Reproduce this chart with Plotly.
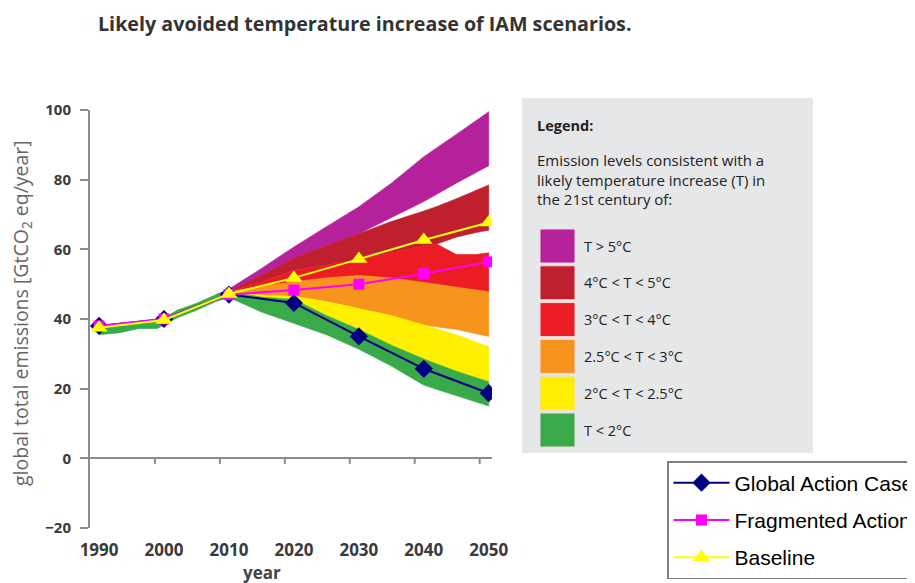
import plotly.graph_objects as go

# ---------------- data ----------------
line_years = [1990, 2000, 2010, 2020, 2030, 2040, 2050]
global_action = [38.0, 40.0, 47.0, 44.6, 35.0, 25.7, 18.7]
fragmented = [38.0, 40.0, 47.0, 48.3, 50.0, 53.0, 56.4]
baseline = [37.5, 39.7, 47.2, 51.8, 57.2, 62.7, 67.7]

green_years = [1990, 1993, 1996, 1999, 2002, 2005, 2008, 2010, 2015, 2020, 2025, 2030, 2035, 2040, 2045, 2050]
green_low = [35.5, 36.0, 37.2, 37.3, 40.3, 42.5, 45.0, 46.2, 42.0, 38.8, 35.5, 31.3, 26.5, 21.0, 18.0, 15.0]
green_high = [37.8, 38.0, 38.8, 39.2, 42.5, 44.5, 47.0, 47.8, 46.3, 45.6, 41.0, 37.0, 32.5, 28.5, 25.0, 22.0]

fut_years = [2010, 2015, 2020, 2025, 2030, 2035, 2040, 2045, 2050]
yellow_low = [47.8, 46.3, 45.6, 41.0, 37.0, 32.5, 28.5, 25.0, 22.0]
yellow_high = [47.8, 46.8, 46.5, 45.0, 43.0, 41.0, 38.3, 35.5, 32.0]
orange_low = [47.8, 46.8, 46.5, 45.0, 43.0, 41.0, 38.3, 37.0, 35.0]
orange_high = [47.8, 49.5, 50.7, 51.8, 52.5, 51.8, 50.5, 49.2, 47.8]

notch_years = [2010, 2015, 2020, 2025, 2030, 2035, 2040, 2042, 2045, 2048, 2050]
red_low = [47.8, 49.5, 50.7, 51.8, 52.5, 51.8, 50.5, 50.0, 49.2, 48.3, 47.8]
red_high = [47.8, 50.7, 54.0, 55.5, 57.0, 59.0, 61.0, 61.5, 58.5, 58.5, 59.0]
darkred_low = [47.8, 50.7, 54.0, 55.5, 57.0, 59.0, 61.0, 61.5, 63.5, 64.8, 65.5]
darkred_high = [47.8, 52.5, 57.5, 61.0, 64.5, 68.0, 71.0, 72.3, 74.5, 77.0, 78.5]

purple_years = [2008, 2010, 2015, 2020, 2025, 2030, 2035, 2040, 2045, 2050]
purple_low = [46.8, 47.8, 52.5, 57.5, 61.0, 64.5, 69.0, 73.7, 79.0, 84.0]
purple_high = [47.0, 48.6, 54.5, 60.7, 66.5, 72.2, 79.0, 86.6, 93.0, 99.5]

band_labels = ["T > 5°C", "4°C < T < 5°C", "3°C < T < 4°C",
               "2.5°C < T < 3°C", "2°C < T < 2.5°C", "T < 2°C"]
band_colors = ["#b5209b", "#c0202d", "#ec1c24", "#f7941e", "#fff000", "#39aa49"]

y_ticks = [-20, 0, 20, 40, 60, 80, 100]

# ---------------- figure ----------------
W, H = 915, 583
OFF = 8  # page offset of the figure (default body margin)
def px(x):
    return (x - OFF) / W
def py(y):
    return 1 - (y - OFF) / H

fig = go.Figure()

bands = [
    (purple_years, purple_low, purple_high, band_colors[0]),
    (notch_years, darkred_low, darkred_high, band_colors[1]),
    (notch_years, red_low, red_high, band_colors[2]),
    (fut_years, orange_low, orange_high, band_colors[3]),
    (fut_years, yellow_low, yellow_high, band_colors[4]),
    (green_years, green_low, green_high, band_colors[5]),
]
for yrs, lo, hi, col in bands:
    fig.add_trace(go.Scatter(
        x=list(yrs) + list(yrs)[::-1],
        y=list(hi) + list(lo)[::-1],
        fill="toself", fillcolor=col, mode="lines",
        line=dict(width=0.6, color=col), showlegend=False, hoverinfo="skip"))

fig.add_trace(go.Scatter(x=line_years, y=global_action, name="Global Action Case",
                         mode="lines+markers", legendgroup="a",
                         line=dict(color="#000080", width=2),
                         marker=dict(symbol="diamond", size=14, color="#000080")))
fig.add_trace(go.Scatter(x=line_years, y=fragmented, name="Fragmented Action",
                         mode="lines+markers", legendgroup="b",
                         line=dict(color="#ff00ff", width=2),
                         marker=dict(symbol="square", size=11, color="#ff00ff")))
fig.add_trace(go.Scatter(x=line_years, y=baseline, name="Baseline",
                         mode="lines+markers", legendgroup="c",
                         line=dict(color="#ffff00", width=2),
                         marker=dict(symbol="triangle-up", size=15, color="#ffff00")))

fig.update_layout(
    width=W, height=H,
    margin=dict(l=0, r=0, t=0, b=0, autoexpand=False),
    paper_bgcolor="white", plot_bgcolor="white",
    showlegend=True,
    legend=dict(x=px(667), y=py(461), xanchor="left", yanchor="top",
                bgcolor="white", bordercolor="#808080", borderwidth=1.5,
                font=dict(family="Liberation Sans", size=21, color="black"),
                tracegroupgap=7, itemwidth=56, traceorder="grouped"),
    xaxis=dict(domain=[px(90), px(492)], range=[1988.6, 2050.5],
               tickvals=line_years, ticktext=[str(v) for v in line_years],
               showgrid=False, zeroline=False, showline=False, automargin=False,
               ticks="outside", ticklen=7, tickcolor="rgba(0,0,0,0)",
               tickfont=dict(family="Open Sans", size=17, color="#3a3a3a", weight=700)),
    yaxis=dict(domain=[py(528), py(110)], range=[-20, 100],
               tickvals=y_ticks, showgrid=False, automargin=False,
               zeroline=True, zerolinecolor="#8c8c8c", zerolinewidth=2,
               showline=True, linecolor="#8c8c8c", linewidth=2,
               ticks="outside", ticklen=8, tickcolor="#8c8c8c", tickwidth=2,
               ticklabelstandoff=6,
               tickfont=dict(family="Open Sans", size=15, color="#3a3a3a", weight=700)),
)

# small tick marks on the zero line (slightly offset as in the source image)
for yr in line_years[1:]:
    fig.add_shape(type="line", xref="x", yref="y", x0=yr - 1.4, x1=yr - 1.4,
                  y0=0, y1=-1.6, line=dict(color="#8c8c8c", width=2))

# title
fig.add_annotation(xref="paper", yref="paper", x=px(96), y=py(23),
                   xanchor="left", yanchor="middle", showarrow=False,
                   text="<b>Likely avoided temperature increase of IAM scenarios.</b>",
                   font=dict(family="Open Sans", size=19.7, color="#333333"))

# axis titles
fig.add_annotation(xref="paper", yref="paper", x=px(21), y=py(313),
                   xanchor="center", yanchor="middle", showarrow=False, textangle=-90,
                   text="global total emissions [GtCO<sub>2</sub> eq/year]",
                   font=dict(family="Open Sans", size=19.5, color="#666666"))
fig.add_annotation(xref="paper", yref="paper", x=px(262), y=py(572),
                   xanchor="center", yanchor="middle", showarrow=False,
                   text="year", font=dict(family="Open Sans", size=17, color="#444444", weight=700))

# colour legend panel
fig.add_shape(type="rect", xref="paper", yref="paper", layer="below",
              x0=px(522), x1=px(813), y0=py(453), y1=py(98),
              fillcolor="#e6e7e9", line=dict(width=0))
fig.add_annotation(xref="paper", yref="paper", x=px(535), y=py(126),
                   xanchor="left", yanchor="middle", showarrow=False,
                   text="<b>Legend:</b>",
                   font=dict(family="Open Sans", size=14.5, color="#222222"))
fig.add_annotation(xref="paper", yref="paper", x=px(535), y=py(179),
                   xanchor="left", yanchor="middle", showarrow=False, align="left",
                   text="Emission levels consistent with a<br>likely temperature increase (T) in<br>the 21st century of:",
                   font=dict(family="Open Sans", size=15, color="#222222"))
for i, (lab, col) in enumerate(zip(band_labels, band_colors)):
    top = 229 + i * 36.8
    fig.add_shape(type="rect", xref="paper", yref="paper",
                  x0=px(540), x1=px(575), y0=py(top + 34), y1=py(top),
                  fillcolor=col, line=dict(color="#f3d9dc", width=1))
    fig.add_annotation(xref="paper", yref="paper", x=px(582), y=py(top + 17),
                       xanchor="left", yanchor="middle", showarrow=False,
                       text=lab, font=dict(family="Open Sans", size=14.5, color="#222222"))

fig.write_html("out.html")
